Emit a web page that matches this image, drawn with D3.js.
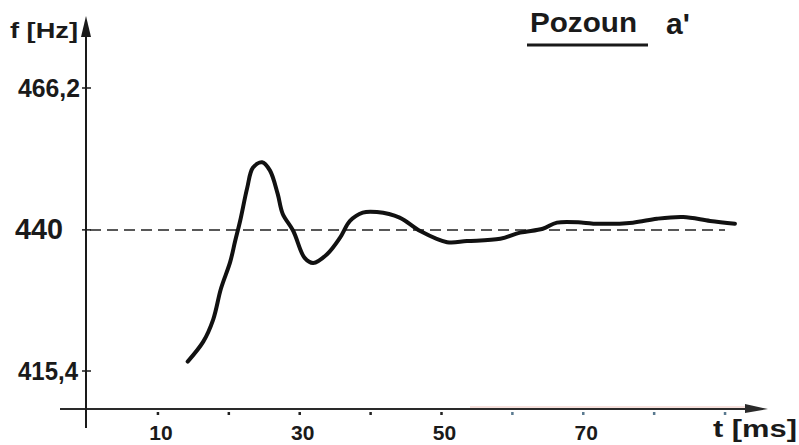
<!DOCTYPE html>
<html>
<head>
<meta charset="utf-8">
<script src="https://cdn.jsdelivr.net/npm/d3@7"></script>
<style>
  html, body { margin: 0; padding: 0; background: #fff; }
  svg { display: block; }
  text { font-family: "Liberation Sans", Arial, sans-serif; font-weight: bold; fill: #1a1a1a; }
</style>
</head>
<body>
<svg id="chart" width="799" height="445"></svg>
<script>
// ---- data ----
const timeMs = [14.2, 16.4, 17.8, 18.9, 20.2, 20.9, 21.6, 22.6, 23.4, 24.7, 25.8, 26.9, 27.6, 29.1, 30.7, 31.9, 33.9, 35.7, 37.1, 38.9, 40.9, 44.1, 47.0, 50.8, 53.6, 58.3, 61.1, 64.3, 66.3, 70.0, 71.9, 77.0, 80.4, 84.1, 87.9, 91.4];
const freqHz = [417.0, 420.4, 424.2, 429.6, 434.3, 438.0, 441.6, 447.6, 451.3, 452.3, 450.8, 446.5, 442.9, 439.8, 435.0, 434.1, 435.7, 438.6, 441.6, 443.1, 443.2, 442.2, 439.8, 437.8, 438.0, 438.4, 439.5, 440.2, 441.3, 441.3, 441.1, 441.3, 442.0, 442.3, 441.6, 441.1];
const referenceHz = 440;
const yTickValues = [466.2, 440, 415.4];
const yTickLabels = ["466,2", "440", "415,4"];
const xTickValues = [10, 20, 30, 40, 50, 60, 70, 80, 90];
const xLabelValues = [10, 30, 50, 70];
const xLabels = ["10", "30", "50", "70"];
const title = "Pozoun";
const titleNote = "a'";
const yAxisTitle = "f [Hz]";
const xAxisTitle = "t [ms]";

// ---- scales ----
const svg = d3.select("#chart");
const x = d3.scaleLinear().domain([0, 90]).range([87, 725]);
const y = d3.scaleLog().domain([415.4, 466.2]).range([371, 88]);
const axisY = 409;
const ink = "#1a1a1a";

// ---- x axis ----
svg.append("line").attr("x1", 60).attr("x2", 752).attr("y1", axisY).attr("y2", axisY)
  .attr("stroke", "#2a2a2a").attr("stroke-width", 2);
svg.append("line").attr("x1", 470).attr("x2", 745).attr("y1", axisY - 2).attr("y2", axisY - 2)
  .attr("stroke", "#f3d6d0").attr("stroke-width", 1.5);
svg.append("path").attr("d", `M745,${axisY - 5} L768,${axisY} L745,${axisY + 4} Z`).attr("fill", "#2a2a2a");

svg.append("g").selectAll("rect").data(xTickValues).join("rect")
  .attr("x", d => x(d) - 1.2).attr("y", axisY + 3).attr("width", 2.5).attr("height", 3)
  .attr("fill", (d, i) => i < 5 ? "#222" : "#5a7a90");

svg.append("g").selectAll("text").data(xLabelValues).join("text")
  .attr("x", d => x(d) + 3).attr("y", 440)
  .attr("text-anchor", "middle").attr("font-size", 21)
  .text((d, i) => xLabels[i]);

svg.append("text").attr("x", 713).attr("y", 437).attr("font-size", 23)
  .attr("textLength", 84).attr("lengthAdjust", "spacingAndGlyphs").text(xAxisTitle);

// ---- y axis ----
svg.append("line").attr("x1", 86).attr("x2", 86).attr("y1", 30).attr("y2", 428)
  .attr("stroke", ink).attr("stroke-width", 2);
svg.append("path").attr("d", "M86,16 L91,37 L81,37 Z").attr("fill", ink);

svg.append("g").selectAll("line").data(yTickValues).join("line")
  .attr("x1", 82).attr("x2", 91).attr("y1", d => y(d)).attr("y2", d => y(d))
  .attr("stroke", ink).attr("stroke-width", 1.5);

const yLabelWidths = [62, 48, 60];
const yLabelSizes = [25, 29, 26];
svg.append("g").selectAll("text").data(yTickValues).join("text")
  .attr("x", (d, i) => i === 1 ? 15 : 18)
  .attr("y", d => y(d) + 9)
  .attr("font-size", (d, i) => yLabelSizes[i])
  .attr("textLength", (d, i) => yLabelWidths[i]).attr("lengthAdjust", "spacingAndGlyphs")
  .text((d, i) => yTickLabels[i]);

svg.append("text").attr("x", 10).attr("y", 38).attr("font-size", 22)
  .attr("textLength", 68).attr("lengthAdjust", "spacingAndGlyphs").text(yAxisTitle);

// ---- reference line ----
svg.append("line").attr("x1", 90).attr("x2", x(90)).attr("y1", y(referenceHz)).attr("y2", y(referenceHz))
  .attr("stroke", "#222").attr("stroke-width", 1.5).attr("stroke-dasharray", "11,6");

// ---- curve ----
const line = d3.line().x((d, i) => x(timeMs[i])).y(d => y(d)).curve(d3.curveCatmullRom.alpha(0.5));
svg.append("path").datum(freqHz).attr("d", line)
  .attr("fill", "none").attr("stroke", "#111").attr("stroke-width", 4)
  .attr("stroke-linecap", "round").attr("stroke-linejoin", "round");

// ---- title ----
svg.append("text").attr("x", 530).attr("y", 32).attr("font-size", 28)
  .attr("textLength", 107).attr("lengthAdjust", "spacingAndGlyphs").text(title);
svg.append("line").attr("x1", 527).attr("x2", 648).attr("y1", 45).attr("y2", 45)
  .attr("stroke", ink).attr("stroke-width", 3);
svg.append("text").attr("x", 666).attr("y", 34).attr("font-size", 30).text(titleNote);
</script>
</body>
</html>
